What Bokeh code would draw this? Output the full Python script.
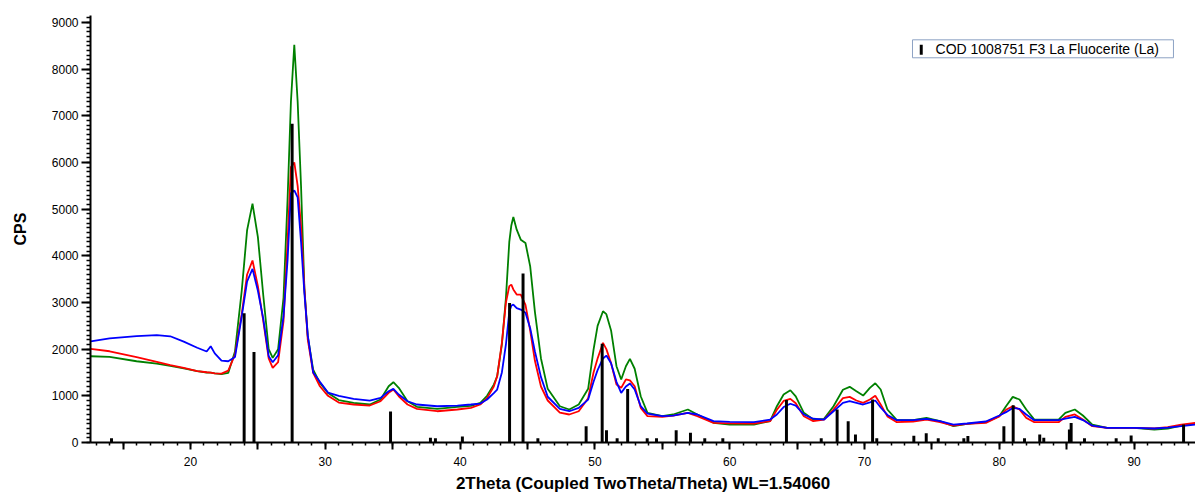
from bokeh.plotting import figure
from bokeh.models import Range1d, SingleIntervalTicker, BoxAnnotation, Label
from bokeh.embed import file_html
from bokeh.resources import INLINE

# ---- data ----
two_theta = [12.6, 14.0, 16.0, 17.5, 18.5, 19.5, 20.5, 21.2, 21.5, 21.8, 22.3, 22.8, 23.3, 23.8,
             24.2, 24.6, 25.0, 25.4, 25.8, 26.1, 26.5, 26.9, 27.2, 27.45, 27.7, 27.95, 28.2, 28.45,
             28.7, 29.1, 29.6, 30.2, 31.0, 32.1, 33.3, 34.1, 34.7, 35.05, 35.45, 36.1, 36.8, 38.3,
             39.8, 40.8, 41.5, 42.0, 42.5, 42.75, 43.1, 43.4, 43.65, 43.8, 43.95, 44.2, 44.5, 44.85,
             45.2, 45.55, 46.0, 46.5, 47.4, 48.1, 48.8, 49.5, 49.9, 50.2, 50.6, 50.85, 51.2, 51.6,
             51.95, 52.3, 52.6, 52.95, 53.4, 53.9, 55.0, 55.8, 56.9, 57.6, 58.8, 60.0, 61.8, 63.0,
             63.5, 64.0, 64.5, 64.9, 65.5, 66.2, 67.0, 67.7, 68.4, 68.9, 69.4, 69.9, 70.4, 70.8,
             71.2, 71.7, 72.4, 73.6, 74.6, 75.6, 76.6, 77.6, 79.0, 80.0, 80.5, 81.0, 81.5, 82.0,
             82.6, 84.4, 84.9, 85.6, 86.2, 86.9, 88.0, 90.0, 91.5, 92.5, 93.5, 94.6]

cps_green = [1848, 1834, 1741, 1690, 1640, 1590, 1530, 1500, 1495, 1480, 1463, 1490, 1950, 3250,
             4550, 5117, 4400, 3150, 2000, 1813, 2000, 3100, 5200, 7300, 8521, 7300, 5500, 3300,
             2276, 1563, 1278, 1060, 910, 850, 814, 921, 1205, 1291, 1171, 884, 764, 721,
             764, 785, 850, 1000, 1240, 1419, 2100, 3100, 4300, 4650, 4832, 4560, 4346, 4275,
             3775, 2800, 1800, 1150, 777, 707, 814, 1150, 1991, 2500, 2811, 2750, 2400, 1634,
             1349, 1634, 1792, 1580, 991, 636, 563, 600, 707, 600, 422, 385, 385, 457,
             777, 1028, 1120, 990, 636, 492, 507, 777, 1130, 1192, 1098, 1006, 1171, 1270,
             1135, 707, 478, 478, 528, 457, 350, 400, 435, 563, 777, 978, 921, 707,
             492, 492, 636, 707, 578, 385, 314, 314, 278, 300, 364, 407]

cps_red = [2005, 1955, 1830, 1730, 1660, 1600, 1530, 1505, 1495, 1480, 1477, 1540, 1880, 2750,
           3600, 3900, 3350, 2600, 1800, 1600, 1720, 2600, 4300, 5900, 6000, 5500, 4630, 3300,
           2205, 1492, 1205, 1000, 855, 814, 792, 884, 1064, 1135, 991, 814, 721, 670,
           707, 743, 814, 950, 1200, 1419, 2134, 3000, 3350, 3383, 3280, 3169, 3169, 2950,
           2400, 1750, 1200, 900, 640, 600, 670, 950, 1500, 1800, 2134, 2000, 1700, 1242,
           1171, 1350, 1330, 1205, 743, 563, 550, 575, 636, 563, 422, 410, 407, 457,
           700, 890, 935, 840, 563, 457, 492, 707, 950, 978, 900, 850, 921, 1000,
           814, 560, 435, 450, 492, 435, 364, 400, 421, 560, 700, 777, 707, 528,
           435, 435, 550, 600, 492, 350, 314, 314, 300, 330, 385, 421]

cps_blue = [2169, 2230, 2280, 2300, 2276, 2160, 2030, 1950, 2062, 1910, 1756, 1741, 1830, 2700,
            3450, 3720, 3250, 2650, 1850, 1720, 1870, 2700, 3900, 5340, 5400, 5250, 4300, 3200,
            2300, 1500, 1300, 1070, 1000, 935, 899, 957, 1098, 1149, 1028, 884, 814, 777,
            792, 814, 835, 921, 1060, 1135, 1500, 2100, 2800, 2930, 2955, 2880, 2848, 2780,
            2450, 1950, 1400, 980, 721, 670, 743, 920, 1300, 1550, 1800, 1862, 1700, 1300,
            1064, 1200, 1263, 1135, 780, 620, 563, 575, 636, 600, 457, 440, 435, 492,
            600, 760, 830, 790, 600, 510, 492, 670, 850, 884, 850, 814, 860, 900,
            750, 590, 478, 478, 507, 457, 385, 407, 450, 578, 650, 740, 720, 600,
            478, 478, 510, 550, 480, 360, 314, 314, 300, 320, 350, 385]

stick_pos = [14.14, 23.98, 24.71, 27.54, 34.84, 37.8, 38.17, 40.17, 43.67, 44.67, 45.77, 49.35,
             50.54, 50.86, 51.65, 52.43, 53.88, 54.57, 56.03, 57.09, 58.15, 59.49, 64.21, 66.79,
             67.97, 68.79, 69.33, 70.6, 70.91, 73.66, 74.58, 75.47, 77.37, 77.67, 80.34, 81.03,
             81.87, 83.0, 83.3, 85.2, 85.33, 86.32, 88.67, 89.78, 93.67]
stick_int = [90, 2770, 1940, 6830, 665, 100, 90, 130, 2990, 3620, 90, 350,
             2115, 260, 90, 1145, 90, 90, 260, 210, 90, 90, 910, 90,
             707, 457, 170, 920, 90, 145, 200, 90, 90, 140, 350, 800,
             90, 170, 100, 280, 420, 90, 90, 150, 385]

x_tick_step = 5
y_tick_step = 1000
x_labels_hidden = [15, 25, 35, 45, 55, 65, 75, 85]

legend_text = "COD 1008751 F3 La Fluocerite (La)"

FONT = "Liberation Sans"

p = figure(width=1195, height=495, output_backend="svg", toolbar_location=None,
           x_range=Range1d(12.582, 94.555), y_range=Range1d(0, 9149),
           min_border_left=90, min_border_right=0, min_border_top=15, min_border_bottom=52)
p.outline_line_color = None
p.xgrid.visible = False
p.ygrid.visible = False

p.line(two_theta, cps_green, line_color="#008000", line_width=1.8)
p.line(two_theta, cps_red, line_color="#ff0000", line_width=1.8)
p.line(two_theta, cps_blue, line_color="#0000ff", line_width=1.8)
p.vbar(x=stick_pos, top=stick_int, bottom=0, width=0.22, fill_color="black", line_color=None)

# axes
p.xaxis.ticker = SingleIntervalTicker(interval=x_tick_step, num_minor_ticks=5)
p.xaxis.major_label_overrides = {t: "" for t in x_labels_hidden}
p.yaxis.ticker = SingleIntervalTicker(interval=y_tick_step, num_minor_ticks=10)

p.axis.axis_line_color = "black"
p.axis.axis_line_width = 2
p.axis.major_tick_line_color = "black"
p.axis.major_tick_line_width = 2
p.axis.minor_tick_line_color = "black"
p.axis.minor_tick_line_width = 1.5
p.axis.major_label_text_font = FONT
p.axis.major_label_text_font_size = "12px"
p.axis.major_label_text_color = "black"
p.axis.axis_label_text_font = FONT
p.axis.axis_label_text_font_style = "bold"
p.axis.axis_label_text_color = "black"

p.xaxis.major_tick_in = 0
p.xaxis.major_tick_out = 7
p.xaxis.minor_tick_in = 0
p.xaxis.minor_tick_out = 3
p.xaxis.major_label_standoff = 7
p.xaxis.axis_label = "2Theta (Coupled TwoTheta/Theta) WL=1.54060"
p.xaxis.axis_label_text_font_size = "17px"
p.xaxis.axis_label_standoff = 5

p.yaxis.major_tick_in = 0
p.yaxis.major_tick_out = 9
p.yaxis.minor_tick_in = 0
p.yaxis.minor_tick_out = 4
p.yaxis.major_label_standoff = 3
p.yaxis.axis_label = "CPS"
p.yaxis.axis_label_text_font_size = "16px"
p.yaxis.axis_label_standoff = 20

# legend box (manual, to match the compact frame)
p.add_layout(BoxAnnotation(left=73.56, right=92.92, bottom=8243, top=8628,
                           fill_color="white", fill_alpha=1.0,
                           line_color="#8da2c4", line_alpha=1.0, line_width=1))
p.add_layout(BoxAnnotation(left=74.10, right=74.32, bottom=8307, top=8521,
                           fill_color="black", fill_alpha=1.0, line_color=None))
p.add_layout(Label(x=75.27, y=8435, text=legend_text, text_baseline="middle",
                   text_font=FONT, text_font_size="14px", text_color="black"))

open("out.html", "w").write(file_html(p, INLINE))
